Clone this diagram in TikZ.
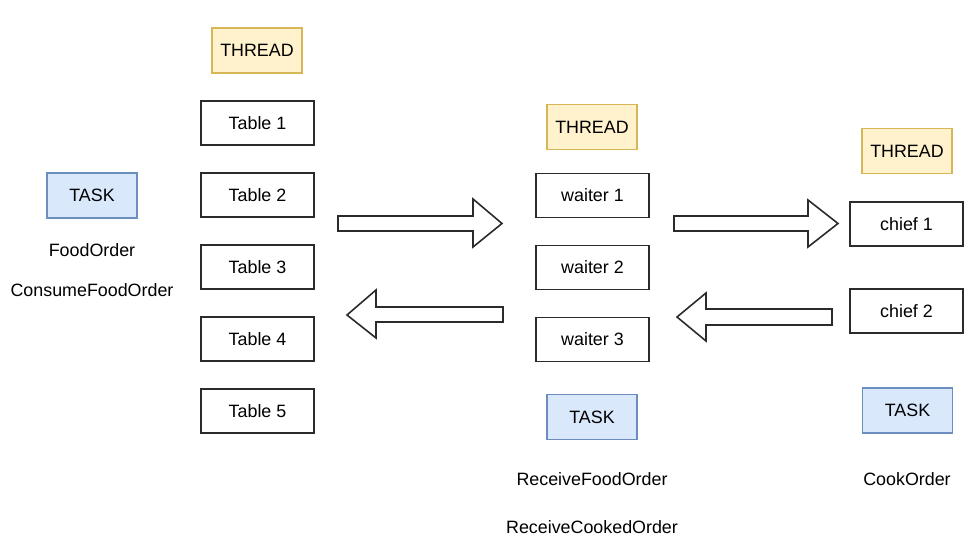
\documentclass[tikz,border=0pt]{standalone}
\usepackage{fontspec}
\setmainfont{Liberation Sans}
\definecolor{thrfill}{HTML}{FFF2CC}
\definecolor{thrdraw}{HTML}{D6B656}
\definecolor{taskfill}{HTML}{DAE8FC}
\definecolor{taskdraw}{HTML}{6C8EBF}
\definecolor{edge}{HTML}{2B2B2B}
\begin{document}
\begin{tikzpicture}[x=0.75pt,y=-0.75pt,
  every node/.style={font=\fontsize{13.4}{15}\selectfont, inner sep=0pt},
  plainbox/.style={draw=edge, line width=1.2pt, fill=white, minimum width=84.75pt, minimum height=33pt},
  threadbox/.style={draw=thrdraw, line width=1.2pt, fill=thrfill, minimum width=67.5pt, minimum height=34pt},
  taskbox/.style={draw=taskdraw, line width=1.2pt, fill=taskfill, minimum width=67.5pt, minimum height=34pt},
  blockarrow/.style={draw=edge, line width=1.2pt, fill=white, line join=miter},
  lbl/.style={}]
\useasboundingbox (0,0) rectangle (979,552);
% left column
\node[threadbox] (thr1) at (257,50.5) {THREAD};
\node[plainbox] (t1) at (257.5,123) {Table 1};
\node[plainbox] (t2) at (257.5,195) {Table 2};
\node[plainbox] (t3) at (257.5,267) {Table 3};
\node[plainbox] (t4) at (257.5,339) {Table 4};
\node[plainbox] (t5) at (257.5,411) {Table 5};
\node[taskbox] (task1) at (92,195.5) {TASK};
\node[lbl] (fo) at (92,250) {FoodOrder};
\node[lbl] (cfo) at (92,290) {ConsumeFoodOrder};
% middle column
\node[threadbox] (thr2) at (592,127) {THREAD};
\node[plainbox] (w1) at (592.5,195.5) {waiter 1};
\node[plainbox] (w2) at (592.5,267.5) {waiter 2};
\node[plainbox] (w3) at (592.5,339.5) {waiter 3};
\node[taskbox] (task2) at (592,417) {TASK};
\node[lbl] (rfo) at (592,479) {ReceiveFoodOrder};
\node[lbl] (rco) at (592,527) {ReceiveCookedOrder};
% right column
\node[threadbox] (thr3) at (907,151) {THREAD};
\node[plainbox] (c1) at (906.5,224) {chief 1};
\node[plainbox] (c2) at (906.5,311) {chief 2};
\node[taskbox] (task3) at (907.5,410.5) {TASK};
\node[lbl] (co) at (907,479) {CookOrder};
% block arrows
\draw[blockarrow] (338,216) -- (473,216) -- (473,199) -- (502,223.5) -- (473,247) -- (473,231) -- (338,231) -- cycle;
\draw[blockarrow] (503,307) -- (376,307) -- (376,290) -- (347,315) -- (376,338) -- (376,322) -- (503,322) -- cycle;
\draw[blockarrow] (674,216) -- (808,216) -- (808,200) -- (838,223.5) -- (808,247) -- (808,231) -- (674,231) -- cycle;
\draw[blockarrow] (832,309) -- (706,309) -- (706,293) -- (677,317) -- (706,341) -- (706,325) -- (832,325) -- cycle;
\end{tikzpicture}
\end{document}
